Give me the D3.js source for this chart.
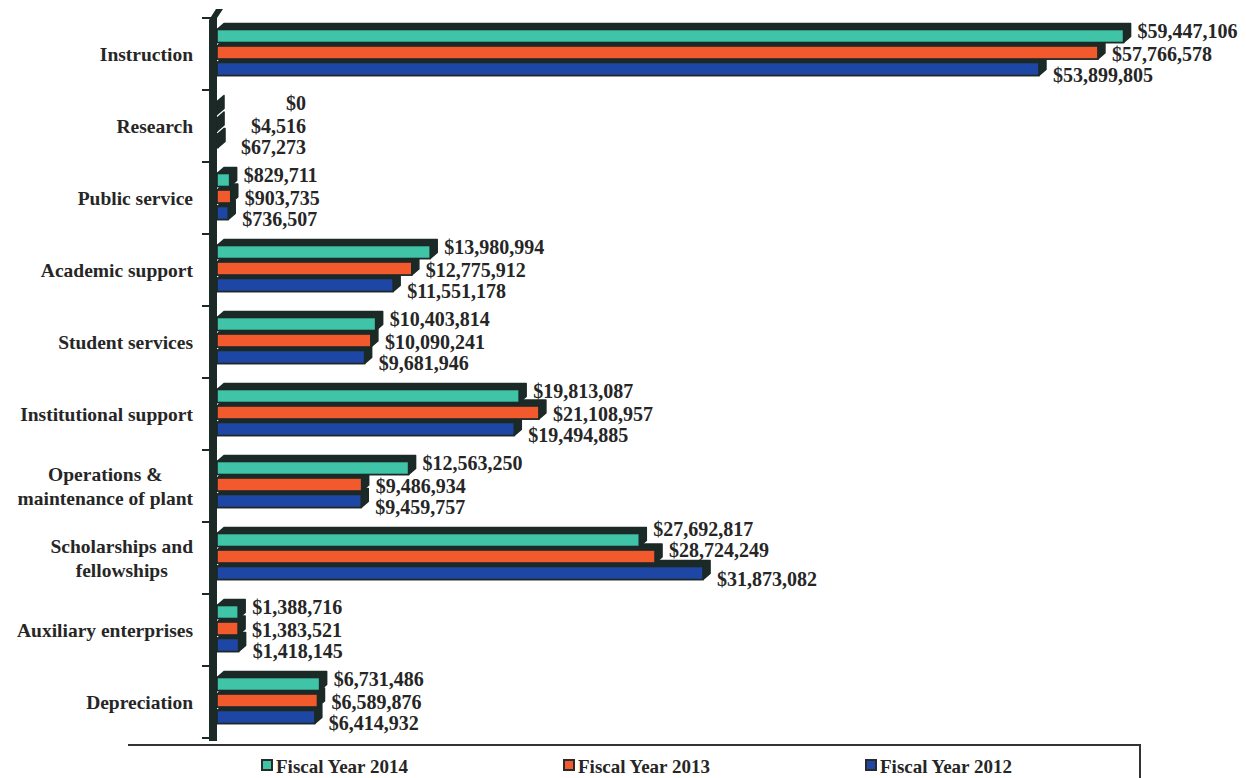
<!DOCTYPE html>
<html>
<head>
<meta charset="utf-8">
<script src="https://cdn.jsdelivr.net/npm/d3@7"></script>
<style>
  body { margin: 0; background: #fff; }
  svg { display: block; }
</style>
</head>
<body>
<svg id="chart" width="1246" height="778"></svg>
<script>
// Expense categories (line breaks marked with "\n")
const categories = [
  "Instruction",
  "Research",
  "Public service",
  "Academic support",
  "Student services",
  "Institutional support",
  "Operations &\nmaintenance of plant",
  "Scholarships and\nfellowships",
  "Auxiliary enterprises",
  "Depreciation"
];

const seriesNames = ["Fiscal Year 2014", "Fiscal Year 2013", "Fiscal Year 2012"];

const fy2014 = [59447106, 0, 829711, 13980994, 10403814, 19813087, 12563250, 27692817, 1388716, 6731486];
const fy2013 = [57766578, 4516, 903735, 12775912, 10090241, 21108957, 9486934, 28724249, 1383521, 6589876];
const fy2012 = [53899805, 67273, 736507, 11551178, 9681946, 19494885, 9459757, 31873082, 1418145, 6414932];

const seriesValues = [fy2014, fy2013, fy2012];
const seriesColors = ["#3fc4a7", "#f2592c", "#1e46a5"];
const depthColor = "#1b2927";
const textColor = "#262626";

const svg = d3.select("#chart");

const x = d3.scaleLinear().domain([0, 60000000]).range([217, 1132]);
const y = d3.scaleBand().domain(categories).range([18, 738]).padding(0);
const inner = d3.scaleBand().domain(seriesNames).range([11.5, 57.5]).paddingInner(0.212).paddingOuter(0);

const fmt = v => "$" + d3.format(",")(v);
const depthX = 7, depthY = 6;

// Left wall of the 3-D plot area
const x0 = x(0);
const [yTop, yBot] = y.range();
svg.append("path")
  .attr("d", `M${x0 - 8},${yBot + 3} L${x0 - 8},${yTop + 2} L${x0 - 1},${yTop - 9} L${x0 + 6},${yTop - 9} L${x0},${yTop} L${x0},${yBot + 3} Z`)
  .attr("fill", depthColor);

// Category tick marks on the wall
const boundaries = categories.map(c => y(c)).concat([yBot]);
svg.append("g").selectAll("line").data(boundaries).join("line")
  .attr("x1", x0 - 15).attr("x2", x0 - 6)
  .attr("y1", d => d).attr("y2", d => d)
  .attr("stroke", depthColor).attr("stroke-width", 2);

// Flatten to bar records
const bars = [];
categories.forEach((c, ci) => {
  seriesNames.forEach((s, si) => {
    bars.push({ cat: c, ci, series: s, si, value: seriesValues[si][ci] });
  });
});

const barH = inner.bandwidth();

// Extruded depth behind every bar
svg.append("g").selectAll("path").data(bars).join("path")
  .attr("d", d => {
    const bx0 = x(0), bx1 = x(d.value);
    const by = y(d.cat) + inner(d.series);
    return `M${bx0},${by + barH} L${bx0},${by} L${bx0 + depthX},${by - depthY} ` +
           `L${bx1 + depthX},${by - depthY} L${bx1 + depthX},${by + barH - depthY} L${bx1},${by + barH} Z`;
  })
  .attr("fill", depthColor)
  .attr("stroke", depthColor)
  .attr("stroke-width", 1.5)
  .attr("stroke-linejoin", "round");

// Front faces
svg.append("g").selectAll("rect").data(bars).join("rect")
  .attr("x", d => x(0))
  .attr("y", d => y(d.cat) + inner(d.series))
  .attr("width", d => Math.max(0, x(d.value) - x(0)))
  .attr("height", barH)
  .attr("fill", d => seriesColors[d.si])
  .attr("stroke", depthColor)
  .attr("stroke-width", 1.6);

// Value labels: stacked beside the bar ends; a label is lifted when the
// bar below it runs well past the label's start, and the label above it
// moves up a little to keep clear.
const labelOffsets = [-23, 0, 21];
const labelGap = 14;
const minRight = x(0) + 89;
const blocked = (si, ci) => {
  if (si >= 2) return false;
  const v = seriesValues[si][ci], below = seriesValues[si + 1][ci];
  return x(below) + depthX - (x(v) + labelGap) > 20;
};
const labels = svg.append("g")
  .attr("font-family", "'Liberation Serif', 'Times New Roman', serif")
  .attr("font-size", 20)
  .attr("font-weight", "bold")
  .attr("fill", textColor);
labels.selectAll("text").data(bars).join("text")
  .attr("x", d => x(d.value) + labelGap)
  .attr("y", d => {
    let ly = y(d.cat) + y.bandwidth() / 2 + labelOffsets[d.si];
    if (blocked(d.si, d.ci)) ly -= 8;
    else if (blocked(d.si + 1, d.ci)) ly -= 6;
    return ly;
  })
  .attr("dominant-baseline", "central")
  .text(d => fmt(d.value))
  .each(function () {
    const w = this.getComputedTextLength();
    const lx = +this.getAttribute("x");
    if (lx + w < minRight) this.setAttribute("x", minRight - w);
  });

// Category labels: block right-aligned, lines centred within the block
const catRight = 193;
const catG = svg.append("g")
  .attr("font-family", "'Liberation Serif', 'Times New Roman', serif")
  .attr("font-size", 19.5)
  .attr("font-weight", "bold")
  .attr("fill", textColor);
categories.forEach(c => {
  const lines = c.split("\n");
  const lineH = 24;
  const cy = y(c) + y.bandwidth() / 2;
  const t = catG.append("text").attr("text-anchor", "middle");
  lines.forEach((ln, i) => {
    t.append("tspan")
      .attr("y", cy + (i - (lines.length - 1) / 2) * lineH)
      .attr("dominant-baseline", "central")
      .text(ln);
  });
  let maxW = 0;
  t.selectAll("tspan").each(function () { maxW = Math.max(maxW, this.getComputedTextLength()); });
  t.selectAll("tspan").attr("x", catRight - maxW / 2);
});

// Legend frame
const legTop = 745, legLeft = 128, legRight = 1140;
svg.append("path")
  .attr("d", `M${legLeft},${legTop} L${legRight},${legTop} L${legRight},778`)
  .attr("fill", "none")
  .attr("stroke", "#333")
  .attr("stroke-width", 2);

const legX = d3.scalePoint().domain(seriesNames).range([262, 866]);
const legItems = svg.append("g").selectAll("g").data(seriesNames).join("g")
  .attr("transform", d => `translate(${legX(d)},765)`);
legItems.append("rect")
  .attr("x", 0).attr("y", -5).attr("width", 10).attr("height", 10)
  .attr("fill", (d, i) => seriesColors[i])
  .attr("stroke", "#2a2a2a").attr("stroke-width", 2);
legItems.append("text")
  .attr("x", 14).attr("y", 1)
  .attr("dominant-baseline", "central")
  .attr("font-family", "'Liberation Serif', 'Times New Roman', serif")
  .attr("font-size", 19)
  .attr("font-weight", "bold")
  .attr("fill", textColor)
  .text(d => d);
</script>
</body>
</html>
